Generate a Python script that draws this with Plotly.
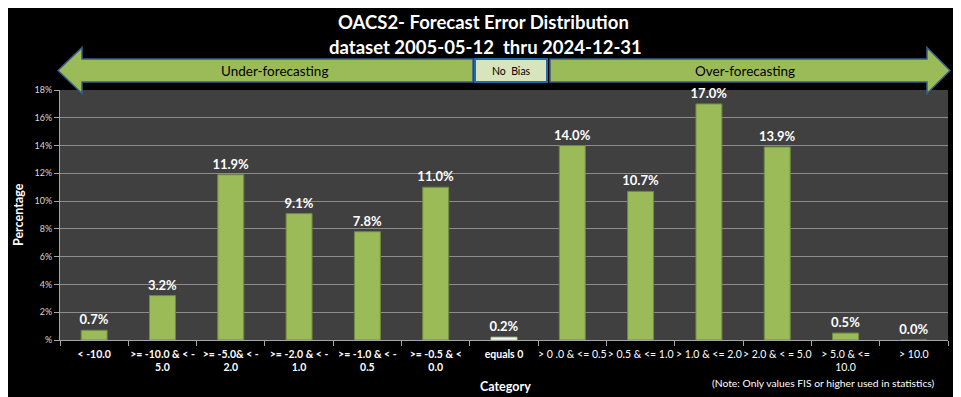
import plotly.graph_objects as go

categories = [
    "<b>< -10.0</b>",
    "<b>>= -10.0 & < -<br>5.0</b>",
    "<b>>= -5.0& < -<br>2.0</b>",
    "<b>>= -2.0 & < -<br>1.0</b>",
    "<b>>= -1.0 & < -<br>0.5</b>",
    "<b>>= -0.5 & <<br>0.0</b>",
    "<b>equals 0</b>",
    "> 0 .0 & <= 0.5",
    "> 0.5 & <= 1.0",
    "> 1.0 & <= 2.0",
    "> 2.0 & < = 5.0",
    "> 5.0 & <=<br>10.0",
    "> 10.0",
]
percentages = [0.7, 3.2, 11.9, 9.1, 7.8, 11.0, 0.2, 14.0, 10.7, 17.0, 13.9, 0.5, 0.0]
y_tickvals = [0, 2, 4, 6, 8, 10, 12, 14, 16, 18]
y_ticktext = ["%", "2%", "4%", "6%", "8%", "10%", "12%", "14%", "16%", "18%"]

W, H = 961, 397
OFF = 8  # default page body margin
L, R, T, B = 60, 948, 90, 340
FONT = "Lato"

def px(x):
    return (x - L) / (R - L)

def py(y):
    return (B - y) / (B - T)

bar_colors = ["#9BBB59"] * len(categories)
line_colors = ["#71893F"] * len(categories)
bar_colors[6] = "#F2F2F2"
line_colors[6] = "#C3D69B"

fig = go.Figure()
fig.add_trace(go.Bar(
    x=categories,
    y=percentages,
    marker=dict(color=bar_colors, line=dict(color=line_colors, width=1)),
    text=[f"{v:.1f}%" for v in percentages],
    textposition="outside",
    constraintext="none",
    textfont=dict(family=FONT, size=13, color="white", weight="bold"),
    cliponaxis=False,
    width=0.38,
))

def path(points):
    return "M " + " L ".join(f"{px(x):.5f},{py(y):.5f}" for x, y in points) + " Z"

left_arrow = [(58, 70.5), (82, 47.5), (82, 59), (473, 59), (473, 82), (82, 82), (82, 93.5)]
right_arrow = [(550, 59), (927, 59), (927, 47.5), (950, 70.5), (927, 93.5), (927, 82), (550, 82)]

shapes = [
    dict(type="path", xref="paper", yref="paper", path=path(left_arrow),
         fillcolor="#9BBB59", line=dict(color="#385D8A", width=1.5), layer="above"),
    dict(type="path", xref="paper", yref="paper", path=path(right_arrow),
         fillcolor="#9BBB59", line=dict(color="#385D8A", width=1.5), layer="above"),
    dict(type="rect", xref="paper", yref="paper", x0=px(475), x1=px(547), y0=py(82), y1=py(59),
         fillcolor="#D7E4BD", line=dict(color="#1F6BB0", width=2), layer="above"),
]

annotations = [
    dict(text="<b>OACS2- Forecast Error Distribution</b>", x=px(483), y=py(22), xref="paper", yref="paper",
         showarrow=False, font=dict(family=FONT, size=18.5, color="white"), xanchor="center", yanchor="middle"),
    dict(text="<b>dataset 2005-05-12&nbsp; thru 2024-12-31</b>", x=px(485), y=py(47), xref="paper", yref="paper",
         showarrow=False, font=dict(family=FONT, size=18.5, color="white"), xanchor="center", yanchor="middle"),
    dict(text="Under-forecasting", x=px(274), y=py(71), xref="paper", yref="paper",
         showarrow=False, font=dict(family=FONT, size=13.5, color="black"), xanchor="center", yanchor="middle"),
    dict(text="No&nbsp; Bias", x=px(511), y=py(71), xref="paper", yref="paper",
         showarrow=False, font=dict(family=FONT, size=10.5, color="black"), xanchor="center", yanchor="middle"),
    dict(text="Over-forecasting", x=px(745), y=py(71), xref="paper", yref="paper",
         showarrow=False, font=dict(family=FONT, size=13.5, color="black"), xanchor="center", yanchor="middle"),
    dict(text="<b>Percentage</b>", x=px(18), y=py(215), xref="paper", yref="paper", textangle=-90,
         showarrow=False, font=dict(family=FONT, size=12.5, color="white"), xanchor="center", yanchor="middle"),
    dict(text="<b>Category</b>", x=px(505), y=py(386), xref="paper", yref="paper",
         showarrow=False, font=dict(family=FONT, size=12.5, color="white"), xanchor="center", yanchor="middle"),
    dict(text="(Note: Only values FIS or higher used in statistics)", x=px(937), y=py(383), xref="paper", yref="paper",
         showarrow=False, font=dict(family=FONT, size=10.3, color="white"), xanchor="right", yanchor="middle"),
]

fig.update_layout(
    width=W - OFF, height=H - OFF,
    margin=dict(l=L - OFF, r=W - R, t=T - OFF, b=H - B, pad=0, autoexpand=False),
    paper_bgcolor="black",
    plot_bgcolor="#404040",
    showlegend=False,
    shapes=shapes,
    annotations=annotations,
    font=dict(family=FONT, color="white"),
    xaxis=dict(
        type="category",
        tickson="boundaries",
        ticks="outside", ticklen=5, tickcolor="#A6A6A6",
        showgrid=False, showline=True, linecolor="#A6A6A6", linewidth=1,
        tickfont=dict(family=FONT, size=10.5, color="white"),
        tickangle=0, automargin=False, ticklabelstandoff=4,
        range=[-0.5, len(categories) - 0.5],
    ),
    yaxis=dict(
        range=[0, 18],
        tickvals=y_tickvals, ticktext=y_ticktext,
        ticks="outside", ticklen=5, tickcolor="#A6A6A6",
        showgrid=True, gridcolor="#8C8C8C", gridwidth=1,
        showline=True, linecolor="#A6A6A6", linewidth=1,
        tickfont=dict(family=FONT, size=9, color="#D9D9D9"),
        zeroline=False, automargin=False,
    ),
)

fig.write_html("out.html")
